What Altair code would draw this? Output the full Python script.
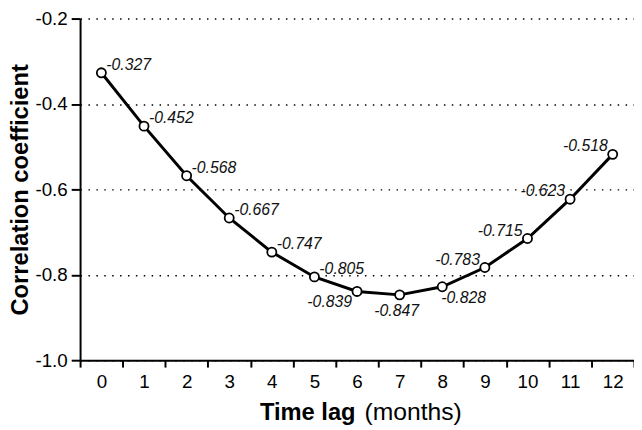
import altair as alt
import pandas as pd

lags = list(range(13))
coefs = [-0.327, -0.452, -0.568, -0.667, -0.747, -0.805, -0.839,
         -0.847, -0.828, -0.783, -0.715, -0.623, -0.518]
y_ticks = [-1.0, -0.8, -0.6, -0.4, -0.2]

df = pd.DataFrame({"lag": lags, "r": coefs,
                   "lbl": [f"{v:.3f}" for v in coefs]})

FONT = "Liberation Sans"
W, H = 561, 346

x = alt.X("lag:O",
          scale=alt.Scale(type="band", paddingInner=0, paddingOuter=0),
          axis=alt.Axis(title=None, labelAngle=0, tickBand="extent",
                        labelFontSize=19, labelColor="black", labelPadding=6,
                        tickSize=7, tickWidth=2, tickColor="black",
                        domainColor="black", domainWidth=2, grid=False))
y = alt.Y("r:Q",
          scale=alt.Scale(domain=[-1.0, -0.2], nice=False, zero=False),
          axis=alt.Axis(title="Correlation coefficient", values=y_ticks,
                        labelExpr="replace(format(datum.value, '.1f'), '\u2212', '-')",
                        labelFontSize=19, labelColor="black", labelPadding=4,
                        tickSize=9, tickWidth=2, tickColor="black",
                        domainColor="black", domainWidth=2,
                        grid=True, gridColor="black", gridDash=[1.5, 6.5],
                        gridWidth=1.5,
                        titleFontSize=24, titleFontWeight="bold",
                        titleColor="black", titlePadding=2))

base = alt.Chart(df)
line = base.mark_line(color="black", strokeWidth=3).encode(x=x, y=y)
pts = base.mark_point(filled=True, fill="white", stroke="black",
                      strokeWidth=1.8, size=85, opacity=1).encode(x=x, y=y)

groups = [
    ([0, 1, 2, 3, 4, 5], "left", 5, -8),
    ([6], "right", -5, 11),
    ([7], "center", -3, 16),
    ([8], "left", -1, 11),
    ([9, 10, 11, 12], "right", -5, -8),
]
labels = []
for ids, al, dx, dy in groups:
    labels.append(
        base.transform_filter(alt.FieldOneOfPredicate(field="lag", oneOf=ids))
        .mark_text(align=al, baseline="middle", dx=dx, dy=dy, fontSize=16,
                   fontStyle="italic", font=FONT, color="#111")
        .encode(x=x, y=y, text="lbl:N"))

t1 = alt.Chart(pd.DataFrame({"t": ["Time lag"]})).mark_text(
    align="right", baseline="alphabetic", fontSize=24, fontWeight="bold",
    font=FONT, color="black").encode(x=alt.value(279), y=alt.value(407), text="t:N")
t2 = alt.Chart(pd.DataFrame({"t": ["(months)"]})).mark_text(
    align="left", baseline="alphabetic", fontSize=25, fontWeight="normal",
    font=FONT, color="black").encode(x=alt.value(288), y=alt.value(407), text="t:N")

chart = alt.layer(line, pts, *labels, t1, t2).properties(
    width=W, height=H,
    autosize=alt.AutoSizeParams(type="none"),
    padding={"left": 73, "top": 8, "right": 0, "bottom": 68},
).configure(font=FONT).configure_view(stroke=None)

chart.save("out.html", embed_options={"renderer": "svg", "actions": False})
